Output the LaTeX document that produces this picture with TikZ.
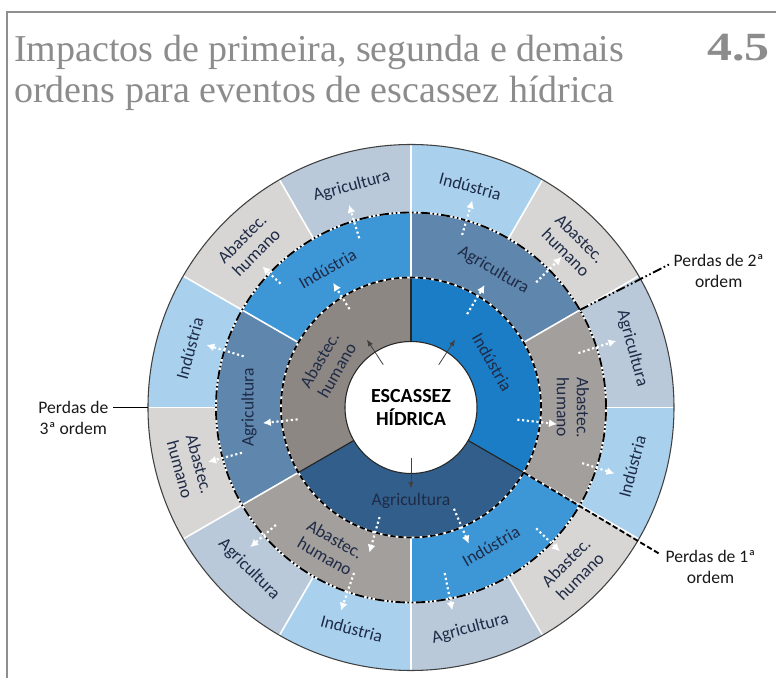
\documentclass[tikz,border=0pt]{standalone}
\usepackage{fontspec}
\setmainfont{Liberation Serif}
\newfontfamily\lblfont{Carlito}
\usepackage{graphicx}
\usepackage{xcolor}
\usetikzlibrary{arrows.meta,positioning}

\definecolor{titlegray}{HTML}{8C8C8C}
\definecolor{framegray}{HTML}{8F8F8F}
\definecolor{labelnavy}{HTML}{1F2B47}
\definecolor{agriIn}{HTML}{315E8B}
\definecolor{indIn}{HTML}{1B7DC6}
\definecolor{humIn}{HTML}{8D8784}
\definecolor{agriMid}{HTML}{5F86AD}
\definecolor{indMid}{HTML}{3D97D7}
\definecolor{humMid}{HTML}{A39F9C}
\definecolor{agriOut}{HTML}{B9C9D9}
\definecolor{indOut}{HTML}{A9D1EE}
\definecolor{humOut}{HTML}{D8D6D5}

% ring sector: colour, start angle, end angle, inner radius, outer radius
\newcommand{\ringpart}[5]{%
  \fill[#1] (#2:#4) arc[start angle=#2, end angle=#3, radius=#4]
    -- (#3:#5) arc[start angle=#3, end angle=#2, radius=#5] -- cycle;}

\begin{document}
\begin{tikzpicture}[x=0.75pt, y=0.75pt,
    titletext/.style={font=\fontsize{28.5}{30.75}\selectfont, text=titlegray, align=left, inner sep=0},
    ringlabel/.style={font=\lblfont\fontsize{13.2}{15}\selectfont, text=labelnavy, align=center, inner sep=0},
    perdas/.style={font=\lblfont\fontsize{13.2}{15.75}\selectfont, text=black!90, align=center},
    flow/.style={white, line width=1.6pt, dash pattern=on 1.6pt off 2pt, -{Latex[length=6pt, width=6pt]}},
    cause/.style={black!75, line width=0.6pt, -{Latex[length=5pt, width=4pt]}},
    divider/.style={white, line width=1.2pt}]
    \useasboundingbox (-411,-270.5) rectangle (365,407.5);

    % Frame and title
    \draw [framegray, line width=1.5pt] (-404,-290) -- (-404,395.5) -- (380,395.5);
    \node [titletext, anchor=base west] (title) at (-397,304.5) {Impactos de primeira, segunda e demais\\ordens para eventos de escassez hídrica};
    \node [titletext, anchor=base east] (number) at (359,346.5) {\scalebox{1.25}[1]{\fontsize{30}{30}\selectfont\bfseries 4.5}};

    % Outer ring (3rd order)
    \ringpart{agriOut}{90}{120}{195}{263}
    \ringpart{humOut}{120}{150}{195}{263}
    \ringpart{indOut}{150}{180}{195}{263}
    \ringpart{humOut}{180}{210}{195}{263}
    \ringpart{agriOut}{210}{240}{195}{263}
    \ringpart{indOut}{240}{270}{195}{263}
    \ringpart{agriOut}{270}{300}{195}{263}
    \ringpart{humOut}{300}{330}{195}{263}
    \ringpart{indOut}{330}{360}{195}{263}
    \ringpart{agriOut}{0}{30}{195}{263}
    \ringpart{humOut}{30}{60}{195}{263}
    \ringpart{indOut}{60}{90}{195}{263}
    % Middle ring (2nd order)
    \ringpart{indMid}{90}{150}{130}{195}
    \ringpart{agriMid}{150}{210}{130}{195}
    \ringpart{humMid}{210}{270}{130}{195}
    \ringpart{indMid}{270}{330}{130}{195}
    \ringpart{humMid}{330}{390}{130}{195}
    \ringpart{agriMid}{30}{90}{130}{195}
    % Inner ring (1st order)
    \ringpart{humIn}{90}{210}{66}{130}
    \ringpart{agriIn}{210}{330}{66}{130}
    \ringpart{indIn}{330}{450}{66}{130}

    % Dividers
    \foreach \a in {0,30,...,330} \draw [divider] (\a:195) -- (\a:263);
    \foreach \a in {30,90,...,330} \draw [divider] (\a:130) -- (\a:195);
    \foreach \a in {90,210,330} \draw [black!85, line width=0.9pt] (\a:66) -- (\a:130);
    \draw [black!75, line width=0.8pt] (0,0) circle [radius=263];
    \draw [white, line width=1.4pt] (0,0) circle [radius=195];
    \draw [black, line width=1.4pt, dash pattern=on 7pt off 2pt on 1.2pt off 2pt on 1.2pt off 2pt] (0,0) circle [radius=195];
    \draw [white, line width=1.4pt] (0,0) circle [radius=130];
    \draw [black, line width=1.4pt, dash pattern=on 4pt off 2pt] (0,0) circle [radius=130];

    % Order markers
    \coordinate (ord1) at (330:130);
    \coordinate (e1) at (329.5:290);
    \coordinate (ord2) at (30:195);
    \coordinate (e2) at (29:295);
    \coordinate (ord3) at (180:263);
    \coordinate (e3) at (-298,0);
    \draw [black, line width=1.4pt, dash pattern=on 4pt off 2pt] (ord1) -- (e1);
    \draw [black, line width=1.4pt, dash pattern=on 7pt off 2pt on 1.2pt off 2pt on 1.2pt off 2pt] (ord2) -- (e2);
    \draw [black, line width=0.6pt] (ord3) -- (e3);
    \node [perdas, right=0pt of e1, yshift=-9.5pt] (lbl1) {Perdas de 1ª\\ordem};
    \node [perdas, right=0pt of e2, yshift=-4.5pt] (lbl2) {Perdas de 2ª\\ordem};
    \node [perdas, left=0pt of e3, yshift=-7.9pt] (lbl3) {Perdas de\\3ª ordem};

    % Centre
    \draw [black!85, line width=0.8pt, fill=white] (0,0) circle [radius=66];
    \node [font=\lblfont\fontsize{15}{17}\selectfont\bfseries, align=center] (core) at (0,0) {ESCASSEZ\\HÍDRICA};
    \foreach \a in {57,123,270} \draw [cause] (\a:51) -- (\a:81);

    % Spreading of the impacts
    \foreach \a/\ra/\rb in {122/116/147, 186/114/149, 59/109/143, 353.5/107/147, 293/110/148, 254/114/151}
        \draw [flow] (\a:\ra) -- (\a:\rb);
    \foreach \a/\ra/\rb in {107/177/212, 136.5/180/205, 163/175/214, 195/175/210, 221/179/213, 251/175/215,
        281.5/169/207, 316/174/207, 342/180/214, 18/176/216, 45/177/213, 73.5/180/216}
        \draw [flow] (\a:\ra) -- (\a:\rb);

    % Labels, inner ring
    \node [ringlabel, rotate=60] (humInL) at (153:93) {Abastec.\\humano};
    \node [ringlabel, rotate=-60] (indInL) at (29:93) {Indústria};
    \node [ringlabel] (agriInL) at (270:93) {Agricultura};
    % Labels, middle ring
    \node [ringlabel, rotate=30] (indMidA) at (121:162) {Indústria};
    \node [ringlabel, rotate=-30] (agriMidA) at (59:160) {Agricultura};
    \node [ringlabel, rotate=-90] (humMidA) at (0:162) {Abastec.\\humano};
    \node [ringlabel, rotate=30] (indMidB) at (300:160) {Indústria};
    \node [ringlabel, rotate=-30] (humMidB) at (240:162) {Abastec.\\humano};
    \node [ringlabel, rotate=90] (agriMidB) at (180:162) {Agricultura};
    % Labels, outer ring
    \node [ringlabel, rotate=15] (agriOutA) at (105:229) {Agricultura};
    \node [ringlabel, rotate=45] (humOutA) at (135:229) {Abastec.\\humano};
    \node [ringlabel, rotate=75] (indOutA) at (165:229) {Indústria};
    \node [ringlabel, rotate=-75] (humOutB) at (195:229) {Abastec.\\humano};
    \node [ringlabel, rotate=-45] (agriOutB) at (225:229) {Agricultura};
    \node [ringlabel, rotate=-15] (indOutB) at (255:229) {Indústria};
    \node [ringlabel, rotate=15] (agriOutC) at (285:229) {Agricultura};
    \node [ringlabel, rotate=45] (humOutC) at (315:229) {Abastec.\\humano};
    \node [ringlabel, rotate=75] (indOutC) at (345:229) {Indústria};
    \node [ringlabel, rotate=-75] (agriOutD) at (15:229) {Agricultura};
    \node [ringlabel, rotate=-45] (humOutD) at (45:229) {Abastec.\\humano};
    \node [ringlabel, rotate=-15] (indOutD) at (75:229) {Indústria};
\end{tikzpicture}
\end{document}
